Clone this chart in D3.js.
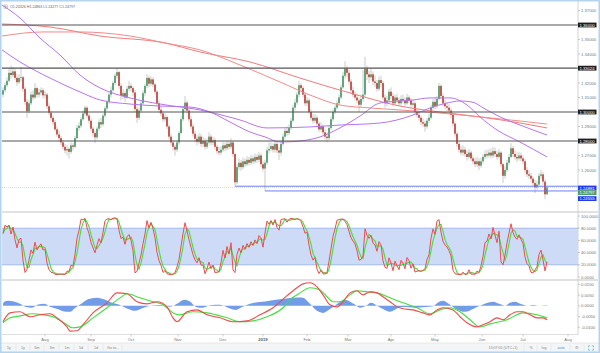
<!DOCTYPE html>
<html><head><meta charset="utf-8">
<script src="https://cdn.jsdelivr.net/npm/d3@7"></script>
<style>body{margin:0;background:#fff;} svg{display:block;font-family:"Liberation Sans",Arial,sans-serif;}</style>
</head><body><svg id="c" width="600" height="353"></svg>
<script>
// ---------------- DATA ----------------
const firstOpen = 1.3120;
const closes = [1.3150,1.3185,1.3215,1.3270,1.3255,1.3280,1.3235,1.3205,1.3235,1.3240,
1.3160,1.3070,1.3005,1.3060,1.3120,1.3100,1.3165,1.3120,1.3135,1.3150,
1.3115,1.3120,1.3040,1.2995,1.2960,1.2930,1.2880,1.2845,1.2820,1.2790,
1.2760,1.2735,1.2745,1.2725,1.2770,1.2760,1.2820,1.2890,1.2905,1.2950,
1.2990,1.3030,1.2975,1.2940,1.2885,1.2855,1.2825,1.2885,1.2930,1.2915,
1.2975,1.3025,1.3070,1.3120,1.3150,1.3200,1.3250,1.3275,1.3180,1.3110,
1.3130,1.3100,1.3160,1.3180,1.3165,1.3135,1.3020,1.2960,1.3010,1.3060,
1.3130,1.3180,1.3235,1.3195,1.3225,1.3190,1.3140,1.3060,1.3015,1.2990,
1.2950,1.2965,1.2900,1.2830,1.2790,1.2760,1.2740,1.2790,1.2855,1.2950,
1.3020,1.3065,1.3010,1.2950,1.2900,1.2850,1.2815,1.2795,1.2830,1.2780,
1.2800,1.2760,1.2790,1.2830,1.2790,1.2805,1.2760,1.2730,1.2720,1.2740,
1.2770,1.2750,1.2780,1.2760,1.2790,1.2710,1.2515,1.2620,1.2650,1.2620,
1.2660,1.2640,1.2670,1.2650,1.2680,1.2660,1.2690,1.2670,1.2700,1.2640,
1.2610,1.2650,1.2735,1.2745,1.2765,1.2740,1.2780,1.2735,1.2720,1.2780,
1.2830,1.2870,1.2855,1.2890,1.2940,1.3030,1.3065,1.3120,1.3185,1.3165,
1.3120,1.3060,1.3080,1.3000,1.2960,1.2940,1.2960,1.2920,1.2880,1.2900,
1.2860,1.2830,1.2820,1.2890,1.2950,1.3000,1.3030,1.3060,1.3100,1.3170,
1.3250,1.3300,1.3270,1.3210,1.3150,1.3120,1.3100,1.3080,1.3050,1.3090,
1.3120,1.3300,1.3260,1.3240,1.3260,1.3210,1.3200,1.3160,1.3220,1.3200,
1.3100,1.3060,1.3080,1.3140,1.3110,1.3060,1.3100,1.3080,1.3060,1.3090,
1.3080,1.3060,1.3100,1.3080,1.3050,1.3060,1.3000,1.2980,1.2960,1.2930,
1.2920,1.2900,1.2940,1.2960,1.3030,1.3070,1.3040,1.3090,1.3180,1.3110,
1.3060,1.3040,1.3030,1.3010,1.2980,1.2920,1.2850,1.2780,1.2740,1.2720,
1.2740,1.2710,1.2690,1.2720,1.2680,1.2660,1.2640,1.2660,1.2630,1.2660,
1.2690,1.2710,1.2700,1.2720,1.2700,1.2730,1.2710,1.2690,1.2720,1.2640,
1.2560,1.2600,1.2650,1.2690,1.2750,1.2710,1.2690,1.2680,1.2700,1.2680,
1.2660,1.2600,1.2570,1.2560,1.2540,1.2510,1.2480,1.2500,1.2560,1.2570,
1.2520,1.24326,1.24797];
const highs = [1.3170,1.3200,1.3240,1.3300,1.3320,1.3310,1.3300,1.3260,1.3260,1.3310,
1.3250,1.3175,1.3090,1.3080,1.3140,1.3150,1.3200,1.3175,1.3160,1.3170,
1.3165,1.3145,1.3130,1.3060,1.3010,1.2975,1.2945,1.2900,1.2870,1.2835,
1.2805,1.2780,1.2770,1.2760,1.2790,1.2785,1.2835,1.2910,1.2930,1.2965,
1.3010,1.3045,1.3040,1.2990,1.2955,1.2900,1.2870,1.2900,1.2950,1.2960,
1.2990,1.3040,1.3085,1.3135,1.3175,1.3215,1.3265,1.3300,1.3285,1.3200,
1.3160,1.3145,1.3180,1.3215,1.3200,1.3180,1.3150,1.3040,1.3030,1.3080,
1.3150,1.3195,1.3260,1.3250,1.3245,1.3240,1.3200,1.3150,1.3080,1.3040,
1.3010,1.2990,1.2975,1.2915,1.2850,1.2805,1.2775,1.2805,1.2870,1.2970,
1.3040,1.3110,1.3080,1.3025,1.2970,1.2920,1.2870,1.2840,1.2855,1.2850,
1.2830,1.2820,1.2815,1.2860,1.2845,1.2830,1.2820,1.2775,1.2760,1.2765,
1.2795,1.2790,1.2800,1.2800,1.2820,1.2800,1.2720,1.2640,1.2680,1.2670,
1.2685,1.2680,1.2695,1.2690,1.2705,1.2700,1.2715,1.2710,1.2725,1.2715,
1.2660,1.2670,1.2760,1.2790,1.2790,1.2785,1.2800,1.2800,1.2760,1.2800,
1.2850,1.2890,1.2900,1.2915,1.2960,1.3050,1.3090,1.3140,1.3215,1.3200,
1.3180,1.3135,1.3105,1.3095,1.3020,1.2985,1.2985,1.2975,1.2935,1.2930,
1.2915,1.2880,1.2860,1.2905,1.2970,1.3020,1.3050,1.3080,1.3120,1.3190,
1.3275,1.3350,1.3320,1.3290,1.3230,1.3175,1.3145,1.3130,1.3100,1.3120,
1.3290,1.3380,1.3320,1.3285,1.3300,1.3280,1.3250,1.3220,1.3245,1.3250,
1.3215,1.3120,1.3110,1.3160,1.3170,1.3130,1.3120,1.3125,1.3100,1.3115,
1.3120,1.3100,1.3125,1.3115,1.3095,1.3085,1.3075,1.3020,1.3000,1.2975,
1.2955,1.2940,1.2960,1.2985,1.3050,1.3090,1.3100,1.3110,1.3200,1.3190,
1.3130,1.3085,1.3065,1.3055,1.3030,1.2995,1.2935,1.2865,1.2795,1.2765,
1.2770,1.2760,1.2735,1.2745,1.2735,1.2700,1.2685,1.2690,1.2680,1.2685,
1.2710,1.2735,1.2740,1.2745,1.2750,1.2760,1.2755,1.2735,1.2745,1.2730,
1.2650,1.2625,1.2670,1.2710,1.2785,1.2765,1.2735,1.2720,1.2725,1.2720,
1.2700,1.2675,1.2620,1.2600,1.2580,1.2555,1.2530,1.2525,1.2580,1.2600,
1.2585,1.2535,1.24863];
const lows = [1.3100,1.3135,1.3170,1.3205,1.3230,1.3240,1.3220,1.3180,1.3190,1.3210,
1.3140,1.3050,1.2960,1.2990,1.3045,1.3080,1.3090,1.3100,1.3100,1.3115,
1.3095,1.3090,1.3020,1.2980,1.2940,1.2910,1.2865,1.2830,1.2800,1.2770,
1.2740,1.2715,1.2700,1.2680,1.2710,1.2735,1.2750,1.2810,1.2870,1.2890,
1.2940,1.2975,1.2960,1.2920,1.2870,1.2830,1.2785,1.2810,1.2870,1.2890,
1.2905,1.2960,1.3010,1.3055,1.3100,1.3135,1.3185,1.3230,1.3160,1.3080,
1.3090,1.3070,1.3090,1.3145,1.3140,1.3110,1.3000,1.2925,1.2945,1.2995,
1.3050,1.3110,1.3165,1.3170,1.3180,1.3170,1.3120,1.3040,1.2990,1.2970,
1.2930,1.2935,1.2880,1.2810,1.2770,1.2735,1.2700,1.2725,1.2775,1.2845,
1.2935,1.3000,1.2990,1.2930,1.2880,1.2830,1.2790,1.2770,1.2780,1.2760,
1.2760,1.2740,1.2745,1.2775,1.2770,1.2770,1.2740,1.2710,1.2700,1.2705,
1.2725,1.2730,1.2735,1.2740,1.2745,1.2690,1.24881,1.2500,1.2600,1.2595,
1.2605,1.2620,1.2625,1.2630,1.2635,1.2640,1.2645,1.2650,1.2655,1.2620,
1.2590,1.24555,1.2635,1.2715,1.2730,1.2720,1.2720,1.2715,1.2670,1.2700,
1.2765,1.2815,1.2835,1.2840,1.2875,1.2930,1.3010,1.3050,1.3100,1.3140,
1.3100,1.3040,1.3040,1.2985,1.2940,1.2920,1.2925,1.2900,1.2860,1.2865,
1.2840,1.2810,1.2790,1.2805,1.2875,1.2935,1.2985,1.3015,1.3045,1.3090,
1.3160,1.3230,1.3240,1.3190,1.3130,1.3100,1.3080,1.3060,1.3000,1.3035,
1.3070,1.3100,1.3220,1.3200,1.3220,1.3185,1.3170,1.3140,1.3145,1.3175,
1.3080,1.3030,1.3040,1.3060,1.3090,1.3040,1.3045,1.3060,1.3040,1.3045,
1.3060,1.3040,1.3050,1.3060,1.3030,1.3035,1.2985,1.2960,1.2940,1.2910,
1.2895,1.2865,1.2885,1.2925,1.2950,1.3015,1.3020,1.3025,1.3080,1.3090,
1.3040,1.3020,1.3005,1.2990,1.2960,1.2900,1.2830,1.2760,1.2720,1.2700,
1.2700,1.2690,1.2665,1.2675,1.2660,1.2640,1.2620,1.2620,1.2600,1.2615,
1.2645,1.2675,1.2680,1.2685,1.2680,1.2685,1.2690,1.2670,1.2675,1.2620,
1.2510,1.2540,1.2585,1.2635,1.2680,1.2690,1.2670,1.2655,1.2665,1.2660,
1.2640,1.2580,1.2550,1.2540,1.2520,1.2490,1.2440,1.2465,1.2490,1.2540,
1.2500,1.2400,1.24277];

// moving averages (bar index, price)
const maSlowBars = [-0.5,8.5,18.5,28.5,38.5,48.5,63.5,78.5,98.5,118.5,132,153.5,168.5,188.5,205,213.5,222,228.5,234.5,241,248.5,258.5,272];
const maSlowVals = [1.3738,1.3648,1.3510,1.3393,1.3255,1.3166,1.3097,1.3055,1.3014,1.2945,1.2890,1.2897,1.2910,1.2924,1.2979,1.3028,1.3062,1.3076,1.3069,1.3021,1.2966,1.2910,1.2841];
const maFastBars = [-0.5,8.5,23.5,38.5,48.5,63.5,78.5,93.5,103.5,113.5,123.5,131,138.5,148.5,158.5,168.5,178.5,188.5,205,213.5,223.5,232,238.5,247,258.5,272];
const maFastVals = [1.3428,1.3345,1.3234,1.3138,1.3083,1.3055,1.3041,1.3034,1.3000,1.2931,1.2862,1.2828,1.2793,1.2800,1.2828,1.2890,1.2972,1.3062,1.3083,1.3097,1.3097,1.3048,1.2966,1.2876,1.2793,1.2690];
const maRed1Bars = [-0.5,23.5,48.5,81,98.5,123.5,148.5,173.5,198.5,218.5,238.5,258.5,272];
const maRed1Vals = [1.3607,1.3586,1.3524,1.3476,1.3414,1.3345,1.3234,1.3131,1.3041,1.3000,1.2966,1.2924,1.2890];
const maRed2Bars = [-0.5,20,38.5,63.5,81,98.5,118.5,138.5,153.5,168.5,183.5,198.5,218.5,238.5,258.5,272];
const maRed2Vals = [1.3524,1.3552,1.3552,1.3524,1.3476,1.3428,1.3324,1.3207,1.3117,1.3048,1.3028,1.3014,1.2993,1.2966,1.2938,1.2917];

// levels
const blackLevels = [1.36000, 1.33024, 1.30000, 1.28000];
const blueLevels = [1.24881, 1.24555];
const blueStartBars = [116, 131];
const lastPrice = 1.24797;
const priceTicks = [1.37,1.35,1.34,1.32,1.31,1.29,1.27,1.26];

// MACD (bar index, value)
const macdBars = [0,3.5,8.5,13.5,18.5,23.5,27,32,33.5,37,40,45,52,57,62,67,72,77,82,85,87,92,97,102,108.5,115,122,128.5,135,142,147,150,153.5,157,160,163.5,167,170,173.5,177,180,183.5,187,190,193.5,197,200,205,210,213.5,217,220,225,228.5,232,237,240,243.5,247,250,253.5,257,260,263.5,267,270,272];
const macdVals = [-0.0074,-0.0033,-0.0028,-0.0051,-0.0042,-0.0037,-0.0056,-0.0098,-0.0118,-0.0116,-0.0088,-0.0033,0.0014,0.0060,0.0056,0.0019,0.0009,0.0019,-0.0005,-0.0056,-0.0074,-0.0028,-0.0019,-0.0042,-0.0056,-0.0074,-0.0070,-0.0042,-0.0009,0.0047,0.0084,0.0102,0.0107,0.0088,0.0051,0.0005,-0.0005,0.0019,0.0060,0.0070,0.0051,0.0065,0.0060,0.0042,0.0019,-0.0005,-0.0014,-0.0019,-0.0033,-0.0042,-0.0019,-0.0009,-0.0019,-0.0051,-0.0079,-0.0098,-0.0088,-0.0074,-0.0056,-0.0065,-0.0042,-0.0028,-0.0028,-0.0042,-0.0056,-0.0056,-0.0065];
const sigBars = [0,3.5,8.5,15,20,25,32,34.5,38.5,45,52,58.5,62,68.5,75,80,85,88.5,95,102,112,118.5,125,132,140,143.5,148.5,153.5,158.5,162,165,168.5,173.5,177,182,187,193.5,200,207,213.5,218.5,223.5,228.5,233.5,238.5,243.5,252,260,267,272];
const sigVals = [-0.0079,-0.0056,-0.0047,-0.0037,-0.0042,-0.0051,-0.0088,-0.0102,-0.0098,-0.0056,-0.0009,0.0037,0.0056,0.0037,0.0019,0.0005,-0.0033,-0.0042,-0.0028,-0.0033,-0.0056,-0.0074,-0.0070,-0.0051,-0.0009,0.0028,0.0060,0.0084,0.0074,0.0042,0.0019,0.0019,0.0051,0.0070,0.0065,0.0060,0.0037,0.0014,-0.0009,-0.0037,-0.0019,-0.0009,-0.0028,-0.0065,-0.0098,-0.0084,-0.0065,-0.0033,-0.0042,-0.0056];
const histBars = [0,0.5,2.5,5.5,8.5,11.5,14.5,17.5,20.5,23.5,27.5,30.5,33.5,36,39.5,42.5,46.5,50.5,54.5,58.5,62,66,70,73.5,78.5,83.5,87.5,90.5,93.5,96.5,99.5,103.5,108.5,113.5,116.5,119.5,123.5,131,138.5,144.5,149.5,153.5,156.5,160,163.5,166.5,171,175.5,178.5,181.5,184,187,190,193.5,197.5,201,206,211,215,217.5,220,223,226,231,235.5,238.5,241.5,245,248.5,251,253.5,256,259,262,265,268.5,272];
const histVals = [0.0010,0.0018,0.0023,0.0020,0.0010,-0.0006,-0.0009,0.0006,0.0009,-0.0004,-0.0016,-0.0026,-0.0028,-0.0010,0.0012,0.0030,0.0037,0.0030,0.0014,0.0004,-0.0012,-0.0023,-0.0010,0.0000,0.0004,-0.0004,0.0012,0.0028,0.0020,-0.0005,-0.0009,0.0003,0.0005,-0.0012,-0.0019,-0.0006,0.0010,0.0020,0.0030,0.0037,0.0039,0.0010,-0.0020,-0.0033,-0.0015,0.0005,0.0028,0.0008,-0.0009,0.0000,0.0014,0.0000,-0.0015,-0.0028,-0.0010,-0.0006,-0.0009,-0.0006,-0.0002,0.0015,0.0023,0.0008,-0.0012,-0.0028,-0.0012,0.0000,0.0012,0.0019,0.0008,0.0000,0.0014,0.0019,0.0008,0.0000,0.0004,0.0000,0.0002];

// x-axis
const monthLabels = ["Aug","Sep","Oct","Nov","Dec","2019","Feb","Mar","Apr","May","Jun","Jul","Aug"];
const monthBars = [21,44,64,87.5,110,130,152,172.5,194,216,239.5,260,282.5];
const stochTicks = [100,80,60,40,20,0];
const macdTicks = [0.01,0.005,0,-0.005,-0.01];
const toolButtons = ["5y","1y","6m","3m","1m","5d","1d","Go to..."];

// ---------------- DRAW ----------------
const svg = d3.select("#c");
const AX = 578;
const x = d3.scaleLinear().domain([0,272]).range([3,547]);
const yP = d3.scaleLinear().domain([1.26,1.36]).range([170,25]);
const yS = d3.scaleLinear().domain([0,100]).range([277,216]);
const yM = d3.scaleLinear().domain([-0.01,0.01]).range([327.3,284.3]);

const defs = svg.append("defs");
function clip(id,y0,y1){defs.append("clipPath").attr("id",id).append("rect").attr("x",2).attr("y",y0).attr("width",AX-2).attr("height",y1-y0);}
clip("cm",1,211.5); clip("cs",213,279.5); clip("cd",281,334);

svg.append("rect").attr("width",600).attr("height",353).attr("fill","#fff");

// main panel
const gm = svg.append("g").attr("clip-path","url(#cm)");
const opens = closes.map((c,i)=> i===0 ? firstOpen : closes[i-1]);

gm.append("line").attr("x1",2).attr("x2",AX).attr("y1",yP(lastPrice)).attr("y2",yP(lastPrice))
  .attr("stroke","#b8bdd0").attr("stroke-width",0.6).attr("stroke-dasharray","1,1");

gm.selectAll("line.w").data(closes).join("line").attr("class","w")
  .attr("x1",(d,i)=>x(i)).attr("x2",(d,i)=>x(i))
  .attr("y1",(d,i)=>yP(highs[i])).attr("y2",(d,i)=>yP(lows[i]))
  .attr("stroke","#a9a9a9").attr("stroke-width",0.6);
gm.selectAll("rect.b").data(closes).join("rect").attr("class","b")
  .attr("x",(d,i)=>x(i)-0.85).attr("width",1.7)
  .attr("y",(d,i)=>yP(Math.max(opens[i],d)))
  .attr("height",(d,i)=>Math.max(0.7,Math.abs(yP(opens[i])-yP(d))))
  .attr("fill",(d,i)=> d>=opens[i] ? "#4e9c6a" : "#c4463a");

function maLine(bars,vals,color,w){
  const pts = bars.map((b,i)=>[x(b),yP(vals[i])]);
  gm.append("path").attr("d",d3.line().curve(d3.curveMonotoneX)(pts))
    .attr("fill","none").attr("stroke",color).attr("stroke-width",w);
}
maLine(maRed1Bars,maRed1Vals,"#f27b7b",1);
maLine(maRed2Bars,maRed2Vals,"#f58a8a",1);
maLine(maSlowBars,maSlowVals,"#b774ee",1);
maLine(maFastBars,maFastVals,"#b774ee",1);

gm.selectAll("line.bl").data(blackLevels).join("line").attr("class","bl")
  .attr("x1",2).attr("x2",AX).attr("y1",d=>yP(d)).attr("y2",d=>yP(d))
  .attr("stroke","#555").attr("stroke-width",1.1);
gm.selectAll("line.ul").data(blueLevels).join("line").attr("class","ul")
  .attr("x1",(d,i)=>x(blueStartBars[i])).attr("x2",AX).attr("y1",d=>yP(d)).attr("y2",d=>yP(d))
  .attr("stroke","#5f72ee").attr("stroke-width",0.9);

// separators & axis lines
svg.append("line").attr("x1",2).attr("x2",598).attr("y1",212).attr("y2",212).attr("stroke","#c4c4c4").attr("stroke-width",1);
svg.append("line").attr("x1",2).attr("x2",598).attr("y1",280).attr("y2",280).attr("stroke","#c4c4c4").attr("stroke-width",1);
svg.append("line").attr("x1",AX).attr("x2",AX).attr("y1",0).attr("y2",335).attr("stroke","#c8c8c8").attr("stroke-width",0.8);
svg.append("line").attr("x1",2).attr("x2",AX).attr("y1",334.5).attr("y2",334.5).attr("stroke","#d0d0d0").attr("stroke-width",0.7);

const fs = 4.2, tc = "#777";
// price ticks
svg.selectAll("g.pt").data(priceTicks).join("g").attr("class","pt").each(function(d){
  const g=d3.select(this), yy=yP(d);
  g.append("line").attr("x1",AX).attr("x2",AX+2).attr("y1",yy).attr("y2",yy).attr("stroke","#999").attr("stroke-width",0.5);
  g.append("text").attr("x",AX+3).attr("y",yy+1.5).attr("font-size",fs).attr("fill",tc).text(d.toFixed(5));
});
function boxLabel(v,yc,bg){
  svg.append("rect").attr("x",AX).attr("y",yc-2.4).attr("width",18.5).attr("height",4.8).attr("fill",bg);
  svg.append("text").attr("x",AX+1.5).attr("y",yc+1.5).attr("font-size",fs).attr("fill","#fff").text(v.toFixed(5));
}
blackLevels.forEach(v=>boxLabel(v,yP(v),"#1e1e1e"));
boxLabel(blueLevels[0],188,"#1f3cf0");
boxLabel(lastPrice,192.6,"#4e9c6a");
boxLabel(blueLevels[1],198.6,"#1f3cf0");

// stochastic
const gs = svg.append("g").attr("clip-path","url(#cs)");
gs.append("rect").attr("x",2).attr("width",AX-2).attr("y",yS(80)).attr("height",yS(20)-yS(80)).attr("fill","#cddbf6");
[80,20].forEach(v=>gs.append("line").attr("x1",2).attr("x2",AX).attr("y1",yS(v)).attr("y2",yS(v)).attr("stroke","#93aeee").attr("stroke-width",0.8));
const kRaw = closes.map((c,i)=>{
  const s=Math.max(0,i-13);
  const hh=d3.max(highs.slice(s,i+1)), ll=d3.min(lows.slice(s,i+1));
  return hh>ll ? (c-ll)/(hh-ll)*100 : 50;
});
const dLine = kRaw.map((k,i)=>{const s=Math.max(0,i-2); return d3.mean(kRaw.slice(s,i+1));});
const sl = d3.line().x((d,i)=>x(i)).y(d=>yS(d));
gs.append("path").attr("d",sl(dLine)).attr("fill","none").attr("stroke","#3fe03f").attr("stroke-width",1.1);
gs.append("path").attr("d",sl(kRaw)).attr("fill","none").attr("stroke","#f04a4a").attr("stroke-width",1);
stochTicks.forEach(v=>{
  svg.append("line").attr("x1",AX).attr("x2",AX+2).attr("y1",yS(v)).attr("y2",yS(v)).attr("stroke","#999").attr("stroke-width",0.5);
  svg.append("text").attr("x",AX+3).attr("y",yS(v)+1.5).attr("font-size",fs).attr("fill",tc).text(v.toFixed(4));
});

// MACD
const gd = svg.append("g").attr("clip-path","url(#cd)");
const hp = histBars.map((b,i)=>[x(b),histVals[i]]);
gd.append("path").attr("d",d3.area().curve(d3.curveMonotoneX).x(d=>d[0]).y0(yM(0)).y1(d=>yM(d[1]))(hp))
  .attr("fill","#719ce8");
const ml = d3.line().curve(d3.curveMonotoneX);
gd.append("path").attr("d",ml(sigBars.map((b,i)=>[x(b),yM(sigVals[i])]))).attr("fill","none").attr("stroke","#3fe03f").attr("stroke-width",1.1);
gd.append("path").attr("d",ml(macdBars.map((b,i)=>[x(b),yM(macdVals[i])]))).attr("fill","none").attr("stroke","#f04a4a").attr("stroke-width",1.1);
macdTicks.forEach(v=>{
  svg.append("line").attr("x1",AX).attr("x2",AX+2).attr("y1",yM(v)).attr("y2",yM(v)).attr("stroke","#999").attr("stroke-width",0.5);
  svg.append("text").attr("x",AX+3).attr("y",yM(v)+1.5).attr("font-size",fs).attr("fill",tc).text(v.toFixed(4));
});

// x axis
monthLabels.forEach((m,i)=>{
  const xx=x(monthBars[i]);
  svg.append("line").attr("x1",xx).attr("x2",xx).attr("y1",334.5).attr("y2",336.5).attr("stroke","#999").attr("stroke-width",0.5);
  svg.append("text").attr("x",xx).attr("y",341).attr("text-anchor","middle").attr("font-size",fs)
    .attr("font-weight",m==="2019"?"bold":"normal").attr("fill",m==="2019"?"#555":tc).text(m);
});

// top OHLC legend
svg.append("rect").attr("x",4).attr("y",5).attr("width",3.6).attr("height",3.6).attr("fill","none").attr("stroke","#888").attr("stroke-width",0.4);
svg.append("path").attr("d","M5.8,5.6V8M4.6,6.8H7").attr("stroke","#888").attr("stroke-width",0.4);
svg.append("text").attr("x",10).attr("y",8.4).attr("font-size",3.6).attr("fill","#666")
  .text("O"+opens[272].toFixed(5)+"  H"+highs[272].toFixed(5)+"  L"+lows[272].toFixed(5)+"  C"+closes[272].toFixed(5));

// bottom toolbar
svg.append("rect").attr("x",1).attr("y",343).attr("width",598).attr("height",9).attr("fill","#f4f5f6");
svg.append("line").attr("x1",1).attr("x2",599).attr("y1",343).attr("y2",343).attr("stroke","#dcdcdc").attr("stroke-width",0.6);
const btnX=[9,23,37,52,67,81,96,113];
toolButtons.forEach((b,i)=>{
  svg.append("text").attr("x",btnX[i]).attr("y",348.8).attr("text-anchor","middle").attr("font-size",3.6).attr("fill","#888").text(b);
  if(i<toolButtons.length) svg.append("line").attr("x1",btnX[i]+(i===7?9:7)).attr("x2",btnX[i]+(i===7?9:7)).attr("y1",344.5).attr("y2",350.5).attr("stroke","#ddd").attr("stroke-width",0.5);
});
const rightItems=[["13:07:05 (UTC+1)",503,"#888"],["%",531,"#888"],["log",544,"#888"],["auto",561,"#3b93da"],["⚙",577,"#999"]];
rightItems.forEach(r=>svg.append("text").attr("x",r[1]).attr("y",348.8).attr("text-anchor","middle").attr("font-size",3.6).attr("fill",r[2]).text(r[0]));
[524,537,551,570,584].forEach(sx=>svg.append("line").attr("x1",sx).attr("x2",sx).attr("y1",344.5).attr("y2",350.5).attr("stroke","#ddd").attr("stroke-width",0.5));
svg.append("path").attr("d","M588.5,345.8h1.6M588.5,345.8v1.6M593.5,345.8h-1.6M593.5,345.8v1.6M588.5,350.2h1.6M588.5,350.2v-1.6M593.5,350.2h-1.6M593.5,350.2v-1.6")
  .attr("stroke","#3ab4cc").attr("stroke-width",0.6).attr("fill","none");

// frame
svg.append("rect").attr("x",0.75).attr("y",0.75).attr("width",598.5).attr("height",351.5).attr("fill","none").attr("stroke","#b3d4ec").attr("stroke-width",1.5);
</script></body></html>
